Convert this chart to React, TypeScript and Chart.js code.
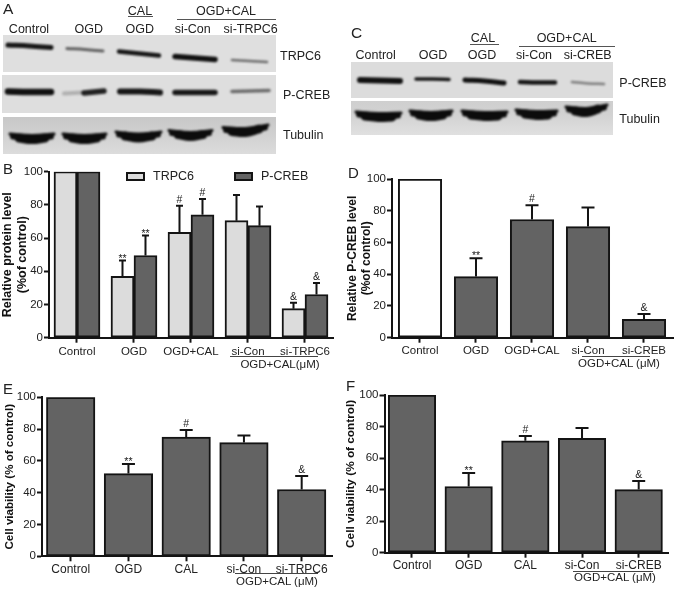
import React, { useEffect, useRef } from "react";
import { Chart, registerables } from "chart.js";

Chart.register(...registerables);
const FONT = '"Liberation Sans", Arial, sans-serif';
Chart.defaults.font.family = FONT;

// ---------- data ----------
const catsB = ["Control", "OGD", "OGD+CAL", "si-Con", "si-TRPC6"];
const trpc6B = [100, 37, 63.5, 70.5, 17.5];
const trpc6BErr = [100, 46.5, 79.5, 86, 21];
const trpc6BSig = ["", "**", "#", "", "&"];
const pcrebB = [100, 49.5, 74, 67.5, 26];
const pcrebBErr = [100, 61.5, 83.5, 79, 33];
const pcrebBSig = ["", "**", "#", "", "&"];

const catsD = ["Control", "OGD", "OGD+CAL", "si-Con", "si-CREB"];
const pcrebD = [100, 38.5, 74.5, 70, 11.5];
const pcrebDErr = [100, 50, 83.5, 82, 15];
const sigD = ["", "**", "#", "", "&"];

const catsE = ["Control", "OGD", "CAL", "si-Con", "si-TRPC6"];
const viabE = [100, 52, 75, 71.5, 42];
const viabEErr = [100, 58, 79.5, 76, 50.5];
const sigE = ["", "**", "#", "", "&"];

const catsF = ["Control", "OGD", "CAL", "si-Con", "si-CREB"];
const viabF = [100, 42, 71, 72.5, 40];
const viabFErr = [100, 50.5, 74, 79, 45.5];
const sigF = ["", "**", "#", "", "&"];

const yTicks = [0, 20, 40, 60, 80, 100];

// western-blot bands: x start, x end, y start, y middle, y end, thickness, darkness
const bandsATrpc6 = [[8, 51, 45, 46, 47.5, 5, 0.95], [67, 103, 48.5, 49.5, 51, 3, 0.6], [119, 159, 51.5, 53.5, 55.5, 4.5, 0.95], [175, 215, 56.5, 58, 59.5, 5.5, 0.98], [232, 267, 60, 61, 62, 2.5, 0.55]];
const bandsAPcreb = [[8, 51, 91.5, 92, 92, 6.5, 0.98], [64, 83, 93.5, 93, 92.5, 4, 0.22], [84, 104, 93, 92, 91, 5.5, 0.9], [120, 160, 91.5, 91.5, 92.5, 6, 0.95], [175, 215, 92.5, 92.5, 92.5, 5.5, 0.95], [232, 269, 91.5, 91, 90.5, 3.5, 0.55]];
const bandsCPcreb = [[20, 60, 80, 80.5, 81, 6, 0.98], [76, 109, 79, 79, 79.5, 3.5, 0.95], [125, 164, 80, 81, 83, 5, 0.98], [180, 215, 82, 82.5, 82.5, 4.5, 0.95], [232, 264, 82, 83.5, 84, 2.5, 0.45]];
// tubulin lens-shaped bands: x start, x end, top left, top middle, top right
const tubA = [[10, 54, 133, 134, 133], [63, 106, 133, 134, 133], [116, 161, 131, 132.5, 131], [169, 212, 129.5, 131, 129.5], [223, 268, 126.5, 127, 124]];
const tubC = [[16, 61, 111, 112, 112], [70, 112, 110, 111, 110], [122, 167, 110, 111, 111], [176, 217, 109, 110, 110], [226, 267, 106, 107, 104]];

// ---------- colours ----------
const INK = "#141414";
const DARK = "#636363";
const LIGHT = "#dcdcdc";

type Series = { label: string; values: number[]; err: number[]; sig: string[]; fill: string | string[] };
type PanelCfg = {
  x: number; y: number; w: number; h: number;
  left: number; right: number; top: number; bottom: number;
  xMin: number; xMax: number; barW: number; capW: number; sigSize: number;
  cats: string[]; series: Series[]; title: string[]; titlePad: number; titleSize: number; tickSize: number; tickPad: number;
  legend?: { sx: number; tx: number }[];
};

const panels: PanelCfg[] = [
  {
    x: 0, y: 155, w: 340, h: 215, left: 49, right: 333.5, top: 16.7, bottom: 182.7,
    xMin: -0.491, xMax: 4.5, barW: 23, capW: 7, sigSize: 10.5,
    cats: catsB, title: ["Relative protein level", "(%of control)"], titlePad: 0, titleSize: 12.5, tickSize: 11.5, tickPad: 2,
    series: [
      { label: "TRPC6", values: trpc6B, err: trpc6BErr, sig: trpc6BSig, fill: LIGHT },
      { label: "P-CREB", values: pcrebB, err: pcrebBErr, sig: pcrebBSig, fill: DARK },
    ],
    legend: [{ sx: 127, tx: 153 }, { sx: 235, tx: 261 }],
  },
  {
    x: 340, y: 155, w: 335, h: 215, left: 52, right: 333, top: 24, bottom: 182.7,
    xMin: -0.5, xMax: 4.518, barW: 43.5, capW: 13, sigSize: 10.5,
    cats: catsD, title: ["Relative P-CREB level", "(%of control)"], titlePad: 5, titleSize: 12, tickSize: 11.5, tickPad: 1.5,
    series: [{ label: "P-CREB", values: pcrebD, err: pcrebDErr, sig: sigD, fill: ["#ffffff", DARK, DARK, DARK, DARK] }],
  },
  {
    x: 0, y: 370, w: 340, h: 220, left: 42, right: 332, top: 27.3, bottom: 186.3,
    xMin: -0.497, xMax: 4.525, barW: 48.5, capW: 13, sigSize: 10.5,
    cats: catsE, title: ["Cell viability (% of control)"], titlePad: 3, titleSize: 11.6, tickSize: 12, tickPad: 1,
    series: [{ label: "Cell viability", values: viabE, err: viabEErr, sig: sigE, fill: DARK }],
  },
  {
    x: 340, y: 370, w: 335, h: 220, left: 44.5, right: 328, top: 25, bottom: 182.7,
    xMin: -0.485, xMax: 4.517, barW: 47.5, capW: 13, sigSize: 10.5,
    cats: catsF, title: ["Cell viability (% of control)"], titlePad: 4, titleSize: 11.8, tickSize: 12, tickPad: 1,
    series: [{ label: "Cell viability", values: viabF, err: viabFErr, sig: sigF, fill: DARK }],
  },
];

function BarPanel({ cfg }: { cfg: PanelCfg }) {
  const ref = useRef<HTMLCanvasElement>(null);
  useEffect(() => {
    const marks = {
      id: "marks",
      afterDatasetsDraw(chart: any) {
        const { ctx } = chart;
        const y = chart.scales.y;
        cfg.series.forEach((s, di) => {
          const meta = chart.getDatasetMeta(di);
          s.err.forEach((e, i) => {
            const bar = meta.data[i];
            const top = y.getPixelForValue(e);
            const base = y.getPixelForValue(s.values[i]);
            ctx.save();
            ctx.strokeStyle = INK;
            ctx.fillStyle = "#222";
            ctx.lineWidth = 2;
            if (e > s.values[i]) {
              ctx.beginPath();
              ctx.moveTo(bar.x, base);
              ctx.lineTo(bar.x, top);
              ctx.moveTo(bar.x - cfg.capW / 2, top);
              ctx.lineTo(bar.x + cfg.capW / 2, top);
              ctx.stroke();
            }
            if (s.sig[i]) {
              ctx.font = `${cfg.sigSize}px ${FONT}`;
              ctx.textAlign = "center";
              ctx.textBaseline = "alphabetic";
              const star = s.sig[i] === "**";
              ctx.fillText(s.sig[i], bar.x, top - (star ? -1 : 3));
            }
            ctx.restore();
          });
        });
        if (cfg.legend) {
          cfg.legend.forEach((l, di) => {
            ctx.save();
            ctx.fillStyle = cfg.series[di].fill as string;
            ctx.strokeStyle = INK;
            ctx.lineWidth = 2;
            ctx.fillRect(l.sx, 18, 17, 7);
            ctx.strokeRect(l.sx, 18, 17, 7);
            ctx.fillStyle = "#222";
            ctx.font = `12.5px ${FONT}`;
            ctx.textBaseline = "middle";
            ctx.fillText(cfg.series[di].label, l.tx, 21.5);
            ctx.restore();
          });
        }
      },
    };
    const axisLine = { color: INK, width: 2 };
    const grid = { drawOnChartArea: false, drawTicks: true, tickLength: 5, tickWidth: 2, tickColor: INK, color: INK, offset: false };
    const chart = new Chart(ref.current!, {
      type: "bar",
      data: {
        datasets: cfg.series.map((s) => ({
          label: s.label,
          data: s.values.map((v, i) => ({ x: i, y: v })),
          backgroundColor: s.fill,
          borderColor: INK,
          borderWidth: 2,
          borderSkipped: false,
          barThickness: cfg.barW,
        })),
      } as any,
      options: {
        responsive: false,
        animation: false,
        layout: { padding: { top: cfg.top, right: cfg.w - cfg.right, left: 0, bottom: 0 } },
        plugins: { legend: { display: false }, tooltip: { enabled: false } },
        scales: {
          x: {
            type: "linear",
            offset: false,
            min: cfg.xMin,
            max: cfg.xMax,
            border: axisLine,
            grid,
            afterBuildTicks: (s: any) => { s.ticks = cfg.cats.map((_, i) => ({ value: i })); },
            afterFit: (s: any) => { s.height = cfg.h - cfg.bottom; },
            ticks: {
              autoSkip: false, maxRotation: 0, minRotation: 0, padding: cfg.tickPad, color: "#222",
              font: { size: cfg.tickSize },
              callback: (v: any) => cfg.cats[v as number],
            },
          },
          y: {
            type: "linear",
            min: 0,
            max: 100,
            border: axisLine,
            grid,
            afterBuildTicks: (s: any) => { s.ticks = yTicks.map((value) => ({ value })); },
            afterFit: (s: any) => { s.width = cfg.left; },
            ticks: { padding: 1, color: "#222", font: { size: 11.5 } },
            title: {
              display: true, text: cfg.title, color: "#111", padding: { top: cfg.titlePad, bottom: 0 },
              font: { size: cfg.titleSize, weight: "bold", lineHeight: 1.2 },
            },
          },
        },
      } as any,
      plugins: [marks],
    });
    return () => chart.destroy();
  }, [cfg]);
  return (
    <canvas ref={ref} width={cfg.w} height={cfg.h}
      style={{ position: "absolute", left: cfg.x, top: cfg.y, width: cfg.w, height: cfg.h }} />
  );
}

const bandLine = (x0: number, x1: number, y0: number, ym: number, y1: number, th: number, a: number) => ({
  data: [{ x: x0, y: y0 }, { x: (x0 + x1) / 2, y: ym }, { x: x1, y: y1 }],
  showLine: true,
  pointRadius: 0,
  tension: 0.4,
  borderWidth: th,
  borderCapStyle: "round",
  borderColor: `rgba(12,12,12,${a})`,
});

function BlotBands({ x, w, h, groups, tub }: { x: number; w: number; h: number; groups: number[][][]; tub: number[][] }) {
  const ref = useRef<HTMLCanvasElement>(null);
  useEffect(() => {
    const plain = groups.flat().map((r) => bandLine(r[0], r[1], r[2], r[3], r[4], r[5], r[6]));
    const lens = tub.flatMap((r) => [
      bandLine(r[0], r[1], r[2] + 1, r[3] + 1.5, r[4] + 1, 3, 1),
      bandLine(r[0] + 3, r[1] - 3, r[2] + 3.5, r[3] + 4, r[4] + 3.5, 6, 1),
      bandLine(r[0] + 9, r[1] - 9, r[2] + 5, r[3] + 5.5, r[4] + 5, 9, 1),
    ]);
    const chart = new Chart(ref.current!, {
      type: "scatter",
      data: { datasets: [...plain, ...lens] } as any,
      options: {
        responsive: false,
        animation: false,
        layout: { padding: 0 },
        plugins: { legend: { display: false }, tooltip: { enabled: false } },
        scales: {
          x: { type: "linear", display: false, min: 0, max: w },
          y: { type: "linear", display: false, min: 0, max: h, reverse: true },
        },
      } as any,
    });
    return () => chart.destroy();
  }, []);
  return (
    <canvas ref={ref} width={w} height={h}
      style={{ position: "absolute", left: x, top: 0, width: w, height: h, filter: "blur(0.9px)" }} />
  );
}

const Strip = ({ x, y, w, h, c }: { x: number; y: number; w: number; h: number; c: string }) => (
  <div style={{ position: "absolute", left: x, top: y, width: w, height: h, background: c }} />
);
const Rule = ({ x, y, w, c = "#555", t = 1 }: { x: number; y: number; w: number; c?: string; t?: number }) => (
  <div style={{ position: "absolute", left: x, top: y, width: w, height: t, background: c }} />
);
const Txt = ({ x, y, s = 12.5, a = "center", children }: { x: number; y: number; s?: number; a?: string; children: React.ReactNode }) => (
  <div style={{
    position: "absolute", left: x, top: y, fontSize: s, fontFamily: FONT, color: "#222", whiteSpace: "nowrap", lineHeight: 1,
    transform: a === "center" ? "translate(-50%,-50%)" : "translate(0,-50%)",
  }}>{children}</div>
);

export default function App() {
  return (
    <div style={{ position: "fixed", left: 0, top: 0, width: 675, height: 590, background: "#fff", overflow: "hidden", filter: "blur(0.3px)" }}>
      <Strip x={3} y={35} w={273} h={37} c="#dfdfdf" />
      <Strip x={2} y={75} w={274} h={38} c="#dedede" />
      <Strip x={3} y={117} w={273} h={37} c="linear-gradient(#c8c8c8,#cfcfcf 40%,#dcdcdc)" />
      <Strip x={351} y={62} w={262} h={36} c="#dcdcdc" />
      <Strip x={351} y={101} w={262} h={34} c="linear-gradient(#cfcfcf,#d2d2d2 40%,#e0e0e0)" />
      <BlotBands x={0} w={340} h={160} groups={[bandsATrpc6, bandsAPcreb]} tub={tubA} />
      <BlotBands x={340} w={335} h={160} groups={[bandsCPcreb]} tub={tubC} />

      {panels.map((p, i) => <BarPanel key={i} cfg={p} />)}

      <Txt x={3} y={9} s={15.5} a="left">A</Txt>
      <Txt x={29} y={28.5}>Control</Txt>
      <Txt x={88.7} y={28.5}>OGD</Txt>
      <Txt x={140} y={11}>CAL</Txt>
      <Rule x={128} y={16} w={25} />
      <Txt x={139.7} y={28.5}>OGD</Txt>
      <Txt x={226} y={11}>OGD+CAL</Txt>
      <Rule x={177} y={19} w={99} />
      <Txt x={192.7} y={28.5}>si-Con</Txt>
      <Txt x={250.7} y={28.5}>si-TRPC6</Txt>
      <Txt x={280} y={55.7} a="left">TRPC6</Txt>
      <Txt x={283} y={95} a="left">P-CREB</Txt>
      <Txt x={283} y={135} a="left">Tubulin</Txt>

      <Txt x={351} y={33} s={15.5} a="left">C</Txt>
      <Txt x={375.7} y={55}>Control</Txt>
      <Txt x={433} y={55}>OGD</Txt>
      <Txt x={483} y={37.7}>CAL</Txt>
      <Rule x={470} y={44} w={29} />
      <Txt x={482} y={55}>OGD</Txt>
      <Txt x={566.7} y={37.7}>OGD+CAL</Txt>
      <Rule x={519} y={46} w={96} />
      <Txt x={534} y={55}>si-Con</Txt>
      <Txt x={587.7} y={55}>si-CREB</Txt>
      <Txt x={619.3} y={82.7} a="left">P-CREB</Txt>
      <Txt x={619.3} y={119} a="left">Tubulin</Txt>

      <Txt x={3} y={168} s={15} a="left">B</Txt>
      <Rule x={230} y={356} w={88} c="#444" />
      <Txt x={280} y={365} s={11.5}>OGD+CAL(μM)</Txt>

      <Txt x={348} y={172} s={15} a="left">D</Txt>
      <Rule x={581.7} y={356} w={68} c="#444" />
      <Txt x={619} y={364} s={11.5}>OGD+CAL (μM)</Txt>

      <Txt x={3} y={388} s={15} a="left">E</Txt>
      <Rule x={235} y={572.5} w={83} c="#444" />
      <Txt x={277} y={582} s={11.5}>OGD+CAL (μM)</Txt>

      <Txt x={346} y={385} s={15} a="left">F</Txt>
      <Rule x={573} y={571} w={80} c="#444" />
      <Txt x={615} y={578} s={11.5}>OGD+CAL (μM)</Txt>
    </div>
  );
}
